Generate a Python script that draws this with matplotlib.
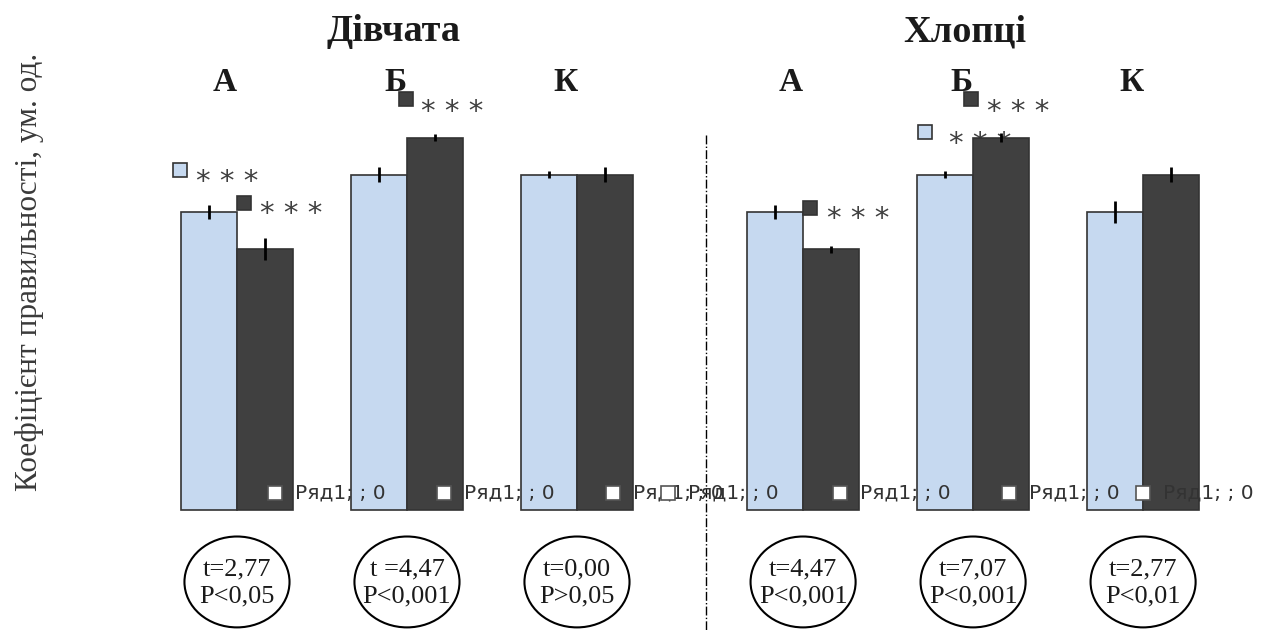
import numpy as np
import matplotlib
matplotlib.use("Agg")
import matplotlib.pyplot as plt
from matplotlib.patches import Ellipse

# Data
groups = ["А", "Б", "К", "А", "Б", "К"]
girls_boys = ["Дівчата", "Хлопці"]
light_vals = [4.0, 4.5, 4.5, 4.0, 4.5, 4.0]
dark_vals = [3.5, 5.0, 4.5, 3.5, 5.0, 4.5]
light_err = [0.10, 0.10, 0.05, 0.10, 0.05, 0.15]
dark_err = [0.15, 0.05, 0.10, 0.05, 0.06, 0.10]
t_labels = ["t=2,77\nP<0,05", "t =4,47\nP<0,001", "t=0,00\nP>0,05",
            "t=4,47\nP<0,001", "t=7,07\nP<0,001", "t=2,77\nP<0,01"]
legend_label = "Ряд1; ; 0"

light_col = "#c6d9f0"
dark_col = "#404040"
edge_col = "#333333"
serif = "Liberation Serif"

pos = np.array([0, 1, 2, 3.33, 4.33, 5.33])
w = 0.33

fig = plt.figure(figsize=(12.66, 6.3), dpi=100)
ax = fig.add_axes([0, 0, 1, 1])
ax.set_xlim(-1.394, 6.053)
ax.set_ylim(-1.611, 6.846)
ax.axis("off")

ax.bar(pos - w/2, light_vals, w, color=light_col, edgecolor=edge_col, lw=1.2, zorder=2)
ax.bar(pos + w/2, dark_vals, w, color=dark_col, edgecolor=edge_col, lw=1.2, zorder=2)
ax.errorbar(pos - w/2, light_vals, yerr=light_err, fmt="none", ecolor="black",
            elinewidth=2, capsize=0, zorder=3)
ax.errorbar(pos + w/2, dark_vals, yerr=dark_err, fmt="none", ecolor="black",
            elinewidth=2, capsize=0, zorder=3)

# group titles and letters
for x, t in zip([0.92, 4.28], girls_boys):
    ax.text(x, 6.42, t, ha="center", va="center", fontsize=27.5,
            fontweight="bold", family=serif, color="#1a1a1a")
letter_x = pos - 0.07
for x, t in zip(letter_x, groups):
    ax.text(x, 5.74, t, ha="center", va="center", fontsize=24,
            fontweight="bold", family=serif, color="#1a1a1a", zorder=1)

# significance markers: (x, y, colour) and stars (x, y baseline)
sig_marks = [(-0.335, 4.56, light_col), (0.041, 4.12, dark_col),
             (0.994, 5.52, dark_col), (3.371, 4.05, dark_col),
             (4.047, 5.07, light_col), (4.318, 5.52, dark_col)]
sig_stars = [(-0.06, 4.29), (0.318, 3.87), (1.265, 5.24),
             (3.653, 3.80), (4.37, 4.81), (4.594, 5.24)]
for (x, y, c) in sig_marks:
    ax.plot(x, y, "s", ms=10.5, mfc=c, mec="#333333", mew=1.2, zorder=4)
for x, y in sig_stars:
    ax.text(x, y, "* * *", ha="center", va="baseline", fontsize=21,
            color="#404040", zorder=1)

# stray legend entries along the base
leg_x = [0.224, 1.215, 2.212, 2.535, 3.547, 4.541, 5.329]
for x in leg_x:
    ax.plot(x, 0.228, "s", ms=10, mfc="white", mec="#555555", mew=1.2, zorder=5)
    ax.text(x + 0.12, 0.228, legend_label, ha="left", va="center",
            fontsize=14.5, color="#333333", zorder=5)

# separator
ax.plot([2.759, 2.759], [5.03, -1.611], color="black", lw=1, ls="-.", zorder=1)

# t / P ellipses
for x, t in zip(pos, t_labels):
    ax.add_patch(Ellipse((x, -0.966), 0.618, 1.22, fill=False, ec="black", lw=1.5))
    ax.text(x, -0.98, t, ha="center", va="center", fontsize=19,
            family=serif, linespacing=1.25, color="#1a1a1a")

fig.text(30/1266, 1 - 272/630, "Коефіцієнт правильності, ум. од.", rotation=90,
         ha="center", va="center", fontsize=22.5, family=serif, color="#3a3a3a")

fig.savefig("out.png", dpi=100)
